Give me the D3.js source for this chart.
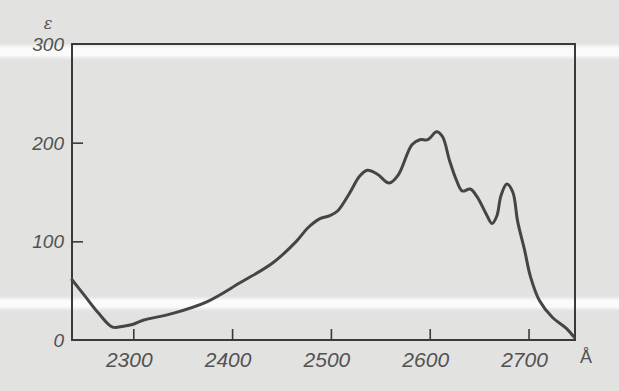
<!DOCTYPE html>
<html>
<head>
<meta charset="utf-8">
<script src="https://cdn.jsdelivr.net/npm/d3@7"></script>
<style>
  html, body { margin: 0; padding: 0; background: #e2e2e1; }
  svg { display: block; }
</style>
</head>
<body>
<svg id="chart" width="619" height="391"></svg>
<script>
// Absorption spectrum: molar extinction ε versus wavelength (Å)
const wavelengths = [2238, 2250, 2265, 2279, 2290, 2300, 2310, 2340, 2375, 2408, 2441, 2465, 2477, 2489,
  2499, 2507, 2519, 2529, 2537, 2547, 2559, 2568, 2582, 2590, 2598, 2607, 2613, 2620, 2627, 2633,
  2641, 2648, 2657, 2663, 2668, 2672, 2678, 2684, 2689, 2696, 2702, 2711, 2724, 2738, 2746];
const epsilon = [61, 46, 27, 13, 14, 16, 20, 27, 39, 58, 78, 100, 114, 123,
  126, 131, 149, 166, 172, 168, 159, 167, 198, 203, 203, 211, 206, 182, 162, 151,
  153, 145, 128, 118, 126, 146, 158, 150, 120, 91, 64, 40, 23, 12, 3];
const xTicks = [2300, 2400, 2500, 2600, 2700];
const yTicks = [0, 100, 200, 300];
const xUnit = "Å";
const yName = "ε";

const svg = d3.select("#chart");
const W = 619, H = 391;

// paper tone with two pale scan streaks
svg.append("rect").attr("width", W).attr("height", H).attr("fill", "#e2e2e1");
const defs = svg.append("defs");
const g = defs.append("linearGradient").attr("id", "streak").attr("x1", 0).attr("x2", 0).attr("y1", 0).attr("y2", 1);
g.append("stop").attr("offset", "0").attr("stop-color", "#fff").attr("stop-opacity", 0);
g.append("stop").attr("offset", "0.3").attr("stop-color", "#fff").attr("stop-opacity", 0.85);
g.append("stop").attr("offset", "0.7").attr("stop-color", "#fff").attr("stop-opacity", 0.85);
g.append("stop").attr("offset", "1").attr("stop-color", "#fff").attr("stop-opacity", 0);
svg.append("rect").attr("x", 0).attr("y", 43).attr("width", W).attr("height", 17).attr("fill", "url(#streak)");
svg.append("rect").attr("x", 0).attr("y", 296).attr("width", W).attr("height", 15).attr("fill", "url(#streak)");

const x = d3.scaleLinear().domain([2238, 2747]).range([72, 575]);
const y = d3.scaleLinear().domain([0, 300]).range([340, 44]);

const ink = "#3a3a3a";
const textInk = "#525252";
const font = "'Liberation Sans Narrow', 'Liberation Sans', sans-serif";

// frame
svg.append("rect")
  .attr("x", x.range()[0]).attr("y", y.range()[1])
  .attr("width", x.range()[1] - x.range()[0])
  .attr("height", y.range()[0] - y.range()[1])
  .attr("fill", "none").attr("stroke", ink).attr("stroke-width", 2);

// inward ticks on bottom axis
const xAxis = d3.axisBottom(x).tickValues(xTicks).tickSize(-11).tickFormat("");
const gx = svg.append("g").attr("transform", `translate(0,${y.range()[0]})`).call(xAxis);
gx.select(".domain").remove();
gx.selectAll("line").attr("stroke", ink).attr("stroke-width", 1.6);
svg.selectAll(".xlab").data(xTicks).enter().append("text")
  .attr("x", d => x(d) - 4).attr("y", 367)
  .attr("text-anchor", "middle")
  .attr("font-family", font).attr("font-style", "italic").attr("font-size", 21)
  .attr("fill", textInk).text(d => d);

// inward ticks on left axis
const yAxis = d3.axisLeft(y).tickValues(yTicks.filter(v => v > 0 && v < 300)).tickSize(-11).tickFormat("");
const gy = svg.append("g").attr("transform", `translate(${x.range()[0]},0)`).call(yAxis);
gy.select(".domain").remove();
gy.selectAll("line").attr("stroke", ink).attr("stroke-width", 1.6);
svg.selectAll(".ylab").data(yTicks).enter().append("text")
  .attr("x", 64).attr("y", d => y(d) + 7)
  .attr("text-anchor", "end")
  .attr("font-family", font).attr("font-style", "italic").attr("font-size", 19)
  .attr("fill", textInk).text(d => d);

// axis names
svg.append("text").attr("x", 48).attr("y", 29).attr("text-anchor", "middle")
  .attr("font-family", "'DejaVu Serif', serif").attr("font-style", "italic").attr("font-size", 16)
  .attr("fill", textInk).text(yName);
svg.append("text").attr("x", 586).attr("y", 363).attr("text-anchor", "middle")
  .attr("font-family", font).attr("font-size", 18)
  .attr("fill", textInk).text(xUnit);

// spectrum curve
const pts = wavelengths.map((w, i) => [w, epsilon[i]]);
const line = d3.line().x(d => x(d[0])).y(d => y(d[1])).curve(d3.curveCatmullRom.alpha(0.5));
svg.append("path").datum(pts).attr("d", line)
  .attr("fill", "none").attr("stroke", "#454545").attr("stroke-width", 3)
  .attr("stroke-linejoin", "round").attr("stroke-linecap", "round");
</script>
</body>
</html>
